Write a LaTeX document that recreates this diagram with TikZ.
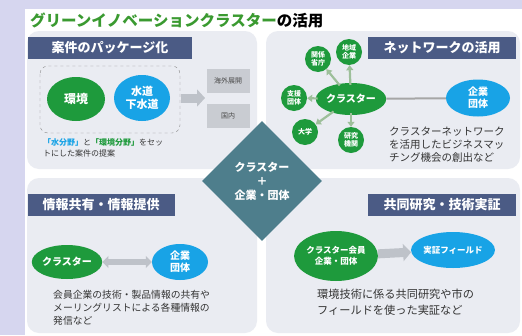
\documentclass[tikz,border=0pt]{standalone}
\usepackage{fontspec}
\newfontfamily\jp{Noto Sans CJK JP}
\usetikzlibrary{shapes.geometric,arrows.meta}

\definecolor{bgpurple}{HTML}{D6D6EF}
\definecolor{panelgray}{HTML}{EAECF2}
\definecolor{headblue}{HTML}{4B5B85}
\definecolor{nodegreen}{HTML}{1E9A3C}
\definecolor{nodeblue}{HTML}{18A3E6}
\definecolor{diamondteal}{HTML}{4E7E8C}
\definecolor{boxgray}{HTML}{C9CCD2}
\definecolor{arrowgray}{HTML}{BEC2C9}
\definecolor{titlegreen}{HTML}{3A9A30}
\definecolor{linkgreen}{HTML}{9DBF9A}

\tikzset{
  header/.style={fill=headblue, text=white, inner sep=0pt, minimum height=22pt,
    font=\jp\bfseries\fontsize{13}{13}\selectfont},
  bignode/.style={ellipse, inner sep=0pt, text=white, align=center,
    font=\jp\bfseries\fontsize{10}{12}\selectfont},
  smallnode/.style={circle, fill=nodegreen, inner sep=0pt, minimum size=26pt,
    text=white, align=center, font=\jp\bfseries\fontsize{7}{8}\selectfont},
  outbox/.style={fill=boxgray, inner sep=0pt, minimum width=43pt, minimum height=24pt,
    text=black!70, font=\jp\fontsize{7}{7}\selectfont},
  bodytext/.style={anchor=north west, align=left, inner sep=0pt, text=black!80},
  blockarrow/.style={arrowgray, line width=9pt, -{Triangle[length=8pt,width=17pt]}},
  linkarrow/.style={linkgreen, line width=2.2pt, -{Triangle[length=5pt,width=7pt]}}
}

\begin{document}
\begin{tikzpicture}[x=1pt,y=-1pt]
\useasboundingbox (0,0) rectangle (522,335);
\fill[bgpurple] (0,0) rectangle (522,335);
\fill[white] (25,9) rectangle (522,335);
\node[anchor=west, inner sep=0pt, font=\jp\bfseries\fontsize{15.5}{15.5}\selectfont] (title) at (30,20)
  {{\color{titlegreen}グリーンイノベーションクラスター}の活用};
\fill[panelgray, rounded corners=12pt] (27,31) rectangle (257,169);
\fill[panelgray, rounded corners=12pt] (266,31) rectangle (520,169);
\fill[panelgray, rounded corners=12pt] (27,178) rectangle (257,333);
\fill[panelgray, rounded corners=12pt] (266,178) rectangle (520,333);

\node[header, minimum width=164pt] (pkghead) at (110,48) {案件のパッケージ化};
\node[header, minimum width=148pt] (netwhead) at (442,48) {ネットワークの活用};
\node[header, minimum width=147pt] (infohead) at (101,205) {情報共有・情報提供};
\node[header, minimum width=148pt] (jointhead) at (442,205) {共同研究・技術実証};

\draw[black!45, dashed, rounded corners=8pt] (40,66) rectangle (180,133);
\node[bignode, fill=nodegreen, minimum width=58pt, minimum height=44pt,
  font=\jp\bfseries\fontsize{12}{14}\selectfont] (kankyo) at (76,99) {環境};
\node[bignode, fill=nodeblue, minimum width=56pt, minimum height=46pt,
  font=\jp\bfseries\fontsize{11}{13}\selectfont] (suido) at (142,98) {水道\\下水道};
\node[outbox] (kaigai) at (228,81) {海外展開};
\node[outbox] (kokunai) at (228,116) {国内};
\coordinate (outs) at (205,98);
\draw[blockarrow] (181,98) -- (outs);
\node[bodytext, font=\jp\fontsize{8}{11.5}\selectfont] (pkgtext) at (43,138)
  {{\color{nodeblue}\bfseries「水分野」}と{\color{nodegreen}\bfseries「環境分野」}をセッ\\トにした案件の提案};

\node[bignode, fill=nodegreen, minimum width=52pt, minimum height=32pt] (clusterN) at (351,99) {クラスター};
\node[bignode, fill=nodeblue, minimum width=64pt, minimum height=37pt] (kigyoN) at (478,98) {企業\\団体};
\foreach \n/\p/\t in {kankei/{(318,59)}/{関係\\省庁}, chiiki/{(349,52)}/{地域\\企業},
  shien/{(294,98)}/{支援\\団体}, daigaku/{(305,132)}/{大学}, kenkyu/{(351,140)}/{研究\\機関}}
  \node[smallnode] (\n) at \p {\t};
\foreach \n in {kankei,chiiki,shien,daigaku,kenkyu}
  \draw[linkarrow, shorten <=-2pt] (clusterN) -- (\n);
\draw[black!35, line width=2pt] (clusterN) -- (kigyoN);
\node[bodytext, font=\jp\fontsize{10.5}{13}\selectfont] (netwtext) at (389,127)
  {クラスターネットワーク\\を活用したビジネスマッ\\チング機会の創出など};

\node[diamond, fill=diamondteal, inner sep=0pt, minimum size=120pt, text=white, align=center,
  font=\jp\bfseries\fontsize{11}{14}\selectfont] (hub) at (262,181) {クラスター\\＋\\企業・団体};

\node[bignode, fill=nodegreen, minimum width=58pt, minimum height=34pt] (clusterI) at (67,262) {クラスター};
\node[bignode, fill=nodeblue, minimum width=56pt, minimum height=36pt] (kigyoI) at (180,262) {企業\\団体};
\draw[arrowgray, line width=6pt, {Triangle[length=6pt,width=12pt]}-{Triangle[length=6pt,width=12pt]}]
  (clusterI) -- (kigyoI);
\node[bodytext, font=\jp\fontsize{9.8}{13}\selectfont] (infotext) at (53,290)
  {会員企業の技術・製品情報の共有や\\メーリングリストによる各種情報の\\発信など};

\node[bignode, fill=nodegreen, minimum width=82pt, minimum height=50pt,
  font=\jp\bfseries\fontsize{8.5}{11}\selectfont] (clusterJ) at (336,256) {クラスター会員\\企業・団体};
\node[bignode, fill=nodeblue, minimum width=72pt, minimum height=36pt,
  font=\jp\bfseries\fontsize{8.5}{11}\selectfont] (field) at (453,250) {実証フィールド};
\draw[blockarrow] (clusterJ) -- (field);
\node[bodytext, font=\jp\fontsize{11.2}{16}\selectfont] (jointtext) at (317,289)
  {環境技術に係る共同研究や市の\\フィールドを使った実証など};
\end{tikzpicture}
\end{document}
